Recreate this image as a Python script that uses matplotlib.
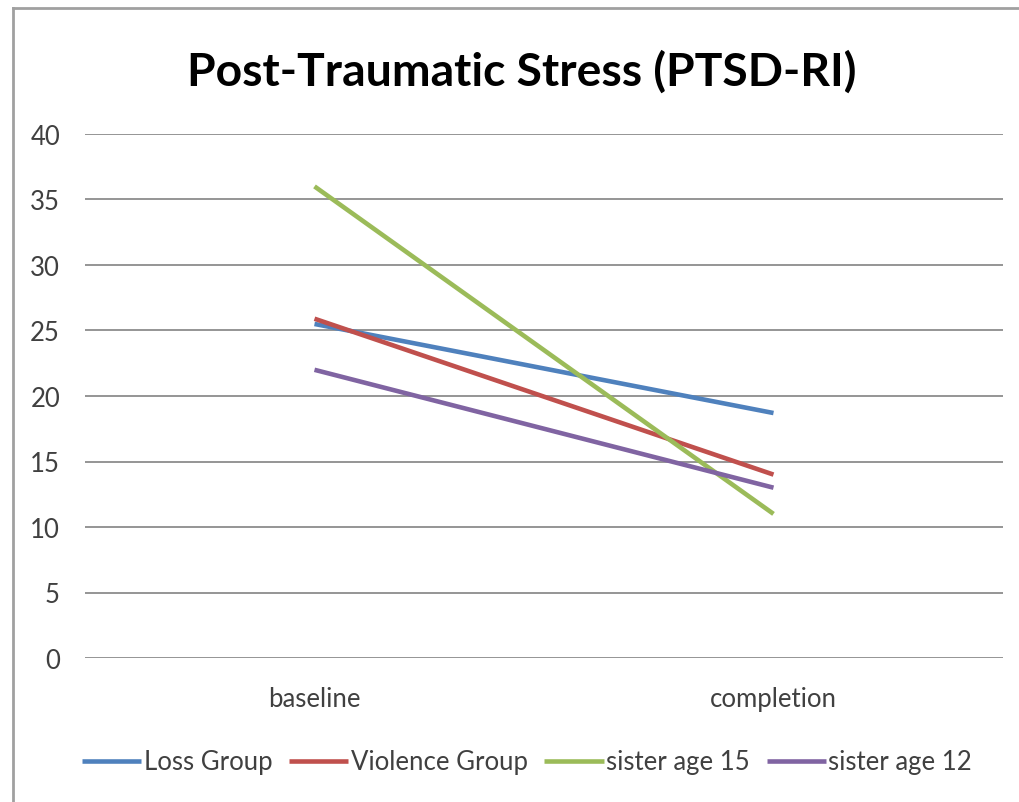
import matplotlib
matplotlib.use("Agg")
import matplotlib.pyplot as plt
from matplotlib.lines import Line2D

categories = ["baseline", "completion"]
series_names = ["Loss Group", "Violence Group", "sister age 15", "sister age 12"]
loss_group = [25.5, 18.7]
violence_group = [25.9, 14.0]
sister_15 = [36.0, 11.0]
sister_12 = [22.0, 13.0]
y_ticks = [0, 5, 10, 15, 20, 25, 30, 35, 40]

colors = ["#4F81BD", "#C0504D", "#9BBB59", "#8064A2"]
series = [loss_group, violence_group, sister_15, sister_12]

plt.rcParams['font.family'] = ['Lato', 'DejaVu Sans']

W, H = 1019, 803
fig = plt.figure(figsize=(W / 100, H / 100), dpi=100)
ax = fig.add_axes([85 / W, 1 - 659 / H, (1003 - 85) / W, (659 - 135) / H])

x = list(range(len(categories)))
for name, vals, c in zip(series_names, series, colors):
    ax.plot(x, vals, color=c, lw=3.3, label=name, solid_capstyle='butt')

ax.set_xlim(-0.5, 1.5)
ax.set_ylim(0, 40)
ax.set_yticks(y_ticks)
ax.set_yticklabels([str(t) for t in y_ticks], fontsize=18.5, color="#404040")
ax.set_xticks(x)
ax.set_xticklabels(categories, fontsize=18.5, color="#404040")
ax.tick_params(axis='both', length=0)
ax.tick_params(axis='y', pad=18)
ax.tick_params(axis='x', pad=20)
ax.yaxis.grid(True, color="#8c8c8c", lw=1.3)
ax.set_axisbelow(True)
for s in ax.spines.values():
    s.set_visible(False)

fig.text(522 / W, 1 - 72 / H, "Post-Traumatic Stress (PTSD-RI)", ha='center', va='center',
         fontsize=33.3, fontweight='bold', color='black')

leg = fig.legend(loc='center', bbox_to_anchor=(527 / W, 1 - 763 / H), ncol=4, frameon=False,
                 fontsize=18.5, handlelength=2.3, handletextpad=0.1, columnspacing=0.65,
                 labelcolor="#404040")

# figure frame (left and top edges visible)
fig.add_artist(Line2D([13 / W, 13 / W], [0, 1 - 9 / H], transform=fig.transFigure, color="#a0a0a0", lw=2))
fig.add_artist(Line2D([13 / W, 1], [1 - 9 / H, 1 - 9 / H], transform=fig.transFigure, color="#a0a0a0", lw=2))

fig.savefig("out.png", dpi=100)
